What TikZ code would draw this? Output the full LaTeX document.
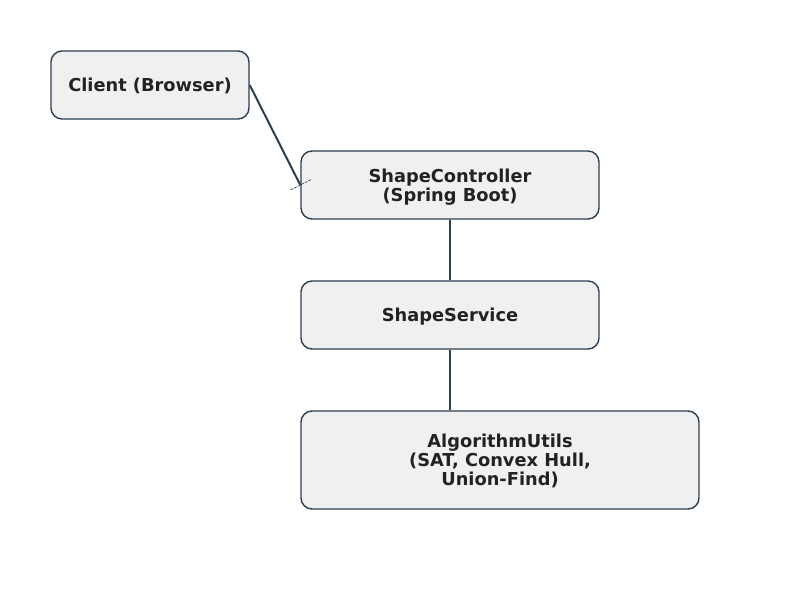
\documentclass[tikz,border=0pt]{standalone}
\usepackage{fontspec}
\setmainfont{DejaVu Sans}
\usetikzlibrary{calc}
\definecolor{edge}{HTML}{2C3E50}
\definecolor{boxfill}{HTML}{F0F0F0}
\definecolor{txt}{HTML}{222222}
\newcommand{\boxtext}[1]{\raisebox{-2.5pt}[\height][\depth]{\begin{tabular}{@{}c@{}}#1\end{tabular}}}
\begin{document}
\begin{tikzpicture}[x=1pt,y=-1pt,
  box/.style={draw=edge, fill=boxfill, line width=1.4pt, rounded corners=11pt,
    text=txt, font=\fontsize{17.8}{17.5}\selectfont\bfseries, inner sep=0pt},
  conn/.style={draw=edge, line width=2pt}]
\useasboundingbox (0,0) rectangle (800,600);
\node[box, minimum width=198pt, minimum height=68pt] (client) at (150,85) {\boxtext{Client (Browser)}};
\node[box, minimum width=298pt, minimum height=68pt] (ctrl) at (450,185) {\boxtext{ShapeController\\(Spring Boot)}};
\node[box, minimum width=298pt, minimum height=68pt] (svc) at (450,315) {\boxtext{ShapeService}};
\node[box, minimum width=398pt, minimum height=98pt] (algo) at (500,460) {\boxtext{AlgorithmUtils\\(SAT, Convex Hull,\\Union-Find)}};
\draw[conn] (client.east) -- (ctrl.west);
\coordinate (t1) at ($(ctrl.west)!12pt!-90:(client.east)$);
\coordinate (t2) at ($(ctrl.west)!12pt!90:(client.east)$);
\draw[edge, line width=0.6pt, dash pattern=on 3pt off 1pt] (t1) -- (t2);
\draw[conn] (ctrl.south) -- (svc.north);
\draw[conn] (svc.south) -- (algo.north -| svc.south);
\end{tikzpicture}
\end{document}
